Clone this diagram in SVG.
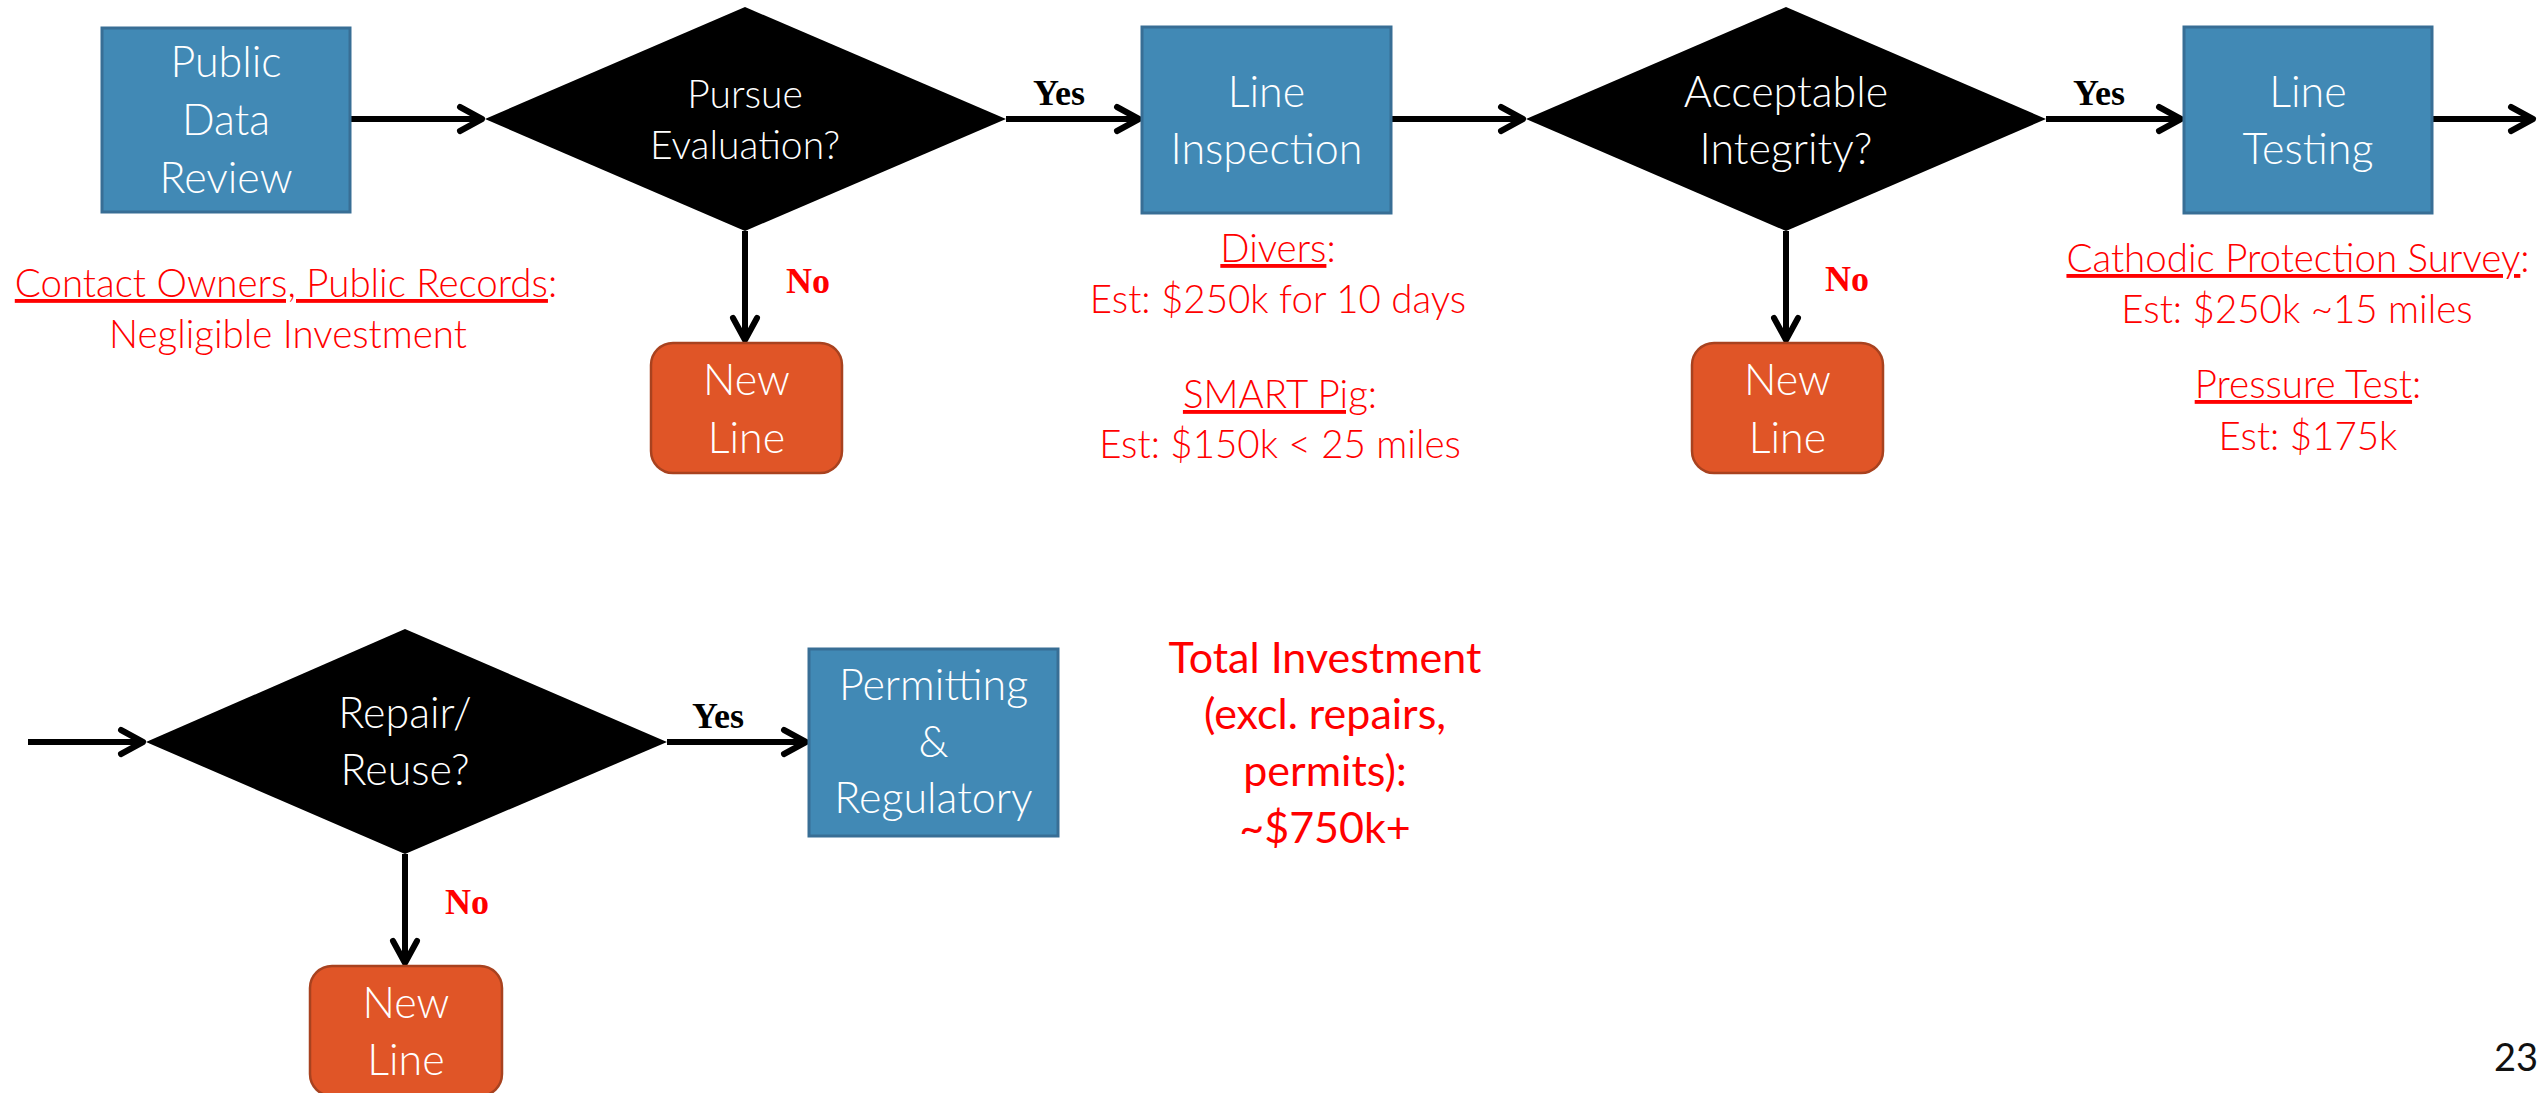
<svg xmlns="http://www.w3.org/2000/svg" width="2542" height="1093" viewBox="0 0 2542 1093">
<style>
.box{fill:#4189B5;stroke:#386E95;stroke-width:3}
.dia{fill:#000}
.term{fill:#E05527;stroke:#A8421F;stroke-width:2.5}
.wt{font-family:Lato,"Open Sans",sans-serif;fill:#fff;font-size:43px;text-anchor:middle;font-weight:300}
.wt.sm{font-size:39px}
.note{font-family:Lato,"Open Sans",sans-serif;fill:#f00;font-size:38.5px;text-anchor:middle;font-weight:300}
.total{font-family:Lato,"Open Sans",sans-serif;fill:#f00;font-size:43px;text-anchor:middle;font-weight:400}
.lbl{font-family:"Liberation Serif","Times New Roman",serif;font-weight:bold;font-size:36px}
.yes{fill:#000}
.no{fill:#f00}
.conn{stroke:#000;stroke-width:6;fill:none;marker-end:url(#arr)}
.u{text-decoration:underline}
.pg{font-family:Lato,"Open Sans",sans-serif;fill:#111;font-size:38px;text-anchor:end}
</style>
<defs>
<marker id="arr" markerUnits="userSpaceOnUse" viewBox="-30 -16 34 32" refX="0" refY="0" markerWidth="34" markerHeight="32" orient="auto" overflow="visible">
<path d="M-22,-12 L0,0 L-22,12" fill="none" stroke="#000" stroke-width="6" stroke-linecap="round" stroke-linejoin="round"/>
</marker>
</defs>
<rect width="2542" height="1093" fill="#fff"/>

<g id="connectors">
<line class="conn" x1="350" y1="119" x2="482" y2="119"/>
<line class="conn" x1="1006" y1="119" x2="1139" y2="119"/>
<line class="conn" x1="1391" y1="119" x2="1523" y2="119"/>
<line class="conn" x1="2046" y1="119" x2="2181" y2="119"/>
<line class="conn" x1="2432" y1="119" x2="2533" y2="119"/>
<line class="conn" x1="745" y1="231" x2="745" y2="340"/>
<line class="conn" x1="1786" y1="231" x2="1786" y2="340"/>
<line class="conn" x1="28" y1="742" x2="143" y2="742"/>
<line class="conn" x1="667" y1="742" x2="806" y2="742"/>
<line class="conn" x1="405" y1="854" x2="405" y2="963"/>
<text class="lbl yes" x="1033" y="105">Yes</text>
<text class="lbl yes" x="2073" y="105">Yes</text>
<text class="lbl yes" x="692" y="728">Yes</text>
<text class="lbl no" x="786" y="293">No</text>
<text class="lbl no" x="1825" y="291">No</text>
<text class="lbl no" x="445" y="914">No</text>
</g>

<g id="public-data-review">
<rect class="box" x="102" y="28" width="248" height="184"/>
<text class="wt" x="226" y="77">Public</text>
<text class="wt" x="226" y="135">Data</text>
<text class="wt" x="226" y="193">Review</text>
</g>

<g id="pursue-evaluation">
<polygon class="dia" points="485,119 745,7 1006,119 745,231"/>
<text class="wt sm" x="745" y="108">Pursue</text>
<text class="wt sm" x="745" y="159">Evaluation?</text>
</g>

<g id="new-line-1">
<rect class="term" x="651" y="343" width="191" height="130" rx="22"/>
<text class="wt" x="746.5" y="395">New</text>
<text class="wt" x="746.5" y="453">Line</text>
</g>

<g id="line-inspection">
<rect class="box" x="1142" y="27" width="249" height="186"/>
<text class="wt" x="1266.5" y="107">Line</text>
<text class="wt" x="1266.5" y="164">Inspection</text>
</g>

<g id="acceptable-integrity">
<polygon class="dia" points="1526,119 1786,7 2046,119 1786,231"/>
<text class="wt" x="1786" y="107">Acceptable</text>
<text class="wt" x="1786" y="164">Integrity?</text>
</g>

<g id="new-line-2">
<rect class="term" x="1692" y="343" width="191" height="130" rx="22"/>
<text class="wt" x="1787.5" y="395">New</text>
<text class="wt" x="1787.5" y="453">Line</text>
</g>

<g id="line-testing">
<rect class="box" x="2184" y="27" width="248" height="186"/>
<text class="wt" x="2308" y="107">Line</text>
<text class="wt" x="2308" y="164">Testing</text>
</g>

<g id="repair-reuse">
<polygon class="dia" points="146,742 405,629 667,742 405,854"/>
<text class="wt" x="405" y="728">Repair/</text>
<text class="wt" x="405" y="785">Reuse?</text>
</g>

<g id="permitting-regulatory">
<rect class="box" x="809" y="649" width="249" height="187"/>
<text class="wt" x="933.5" y="700">Permitting</text>
<text class="wt" x="933.5" y="757">&amp;</text>
<text class="wt" x="933.5" y="813">Regulatory</text>
</g>

<g id="new-line-3">
<rect class="term" x="310" y="966" width="192" height="130" rx="22"/>
<text class="wt" x="406" y="1018">New</text>
<text class="wt" x="406" y="1075">Line</text>
</g>

<g id="notes">
<text class="note" x="286" y="297"><tspan class="u">Contact Owners, Public Records</tspan>:</text>
<text class="note" x="288" y="348">Negligible Investment</text>
<text class="note" x="1278" y="262"><tspan class="u">Divers</tspan>:</text>
<text class="note" x="1278" y="313">Est: $250k for 10 days</text>
<text class="note" x="1280" y="408"><tspan class="u">SMART Pig</tspan>:</text>
<text class="note" x="1280" y="458">Est: $150k &lt; 25 miles</text>
<text class="note" x="2298" y="272"><tspan class="u">Cathodic Protection Survey</tspan>:</text>
<text class="note" x="2297" y="323">Est: $250k ~15 miles</text>
<text class="note" x="2308" y="398"><tspan class="u">Pressure Test</tspan>:</text>
<text class="note" x="2308" y="450">Est: $175k</text>
<text class="total" x="1325" y="673">Total Investment</text>
<text class="total" x="1325" y="729">(excl. repairs,</text>
<text class="total" x="1325" y="786">permits):</text>
<text class="total" x="1325" y="843">~$750k+</text>
<text class="pg" x="2538" y="1071">23</text>
</g>
</svg>
